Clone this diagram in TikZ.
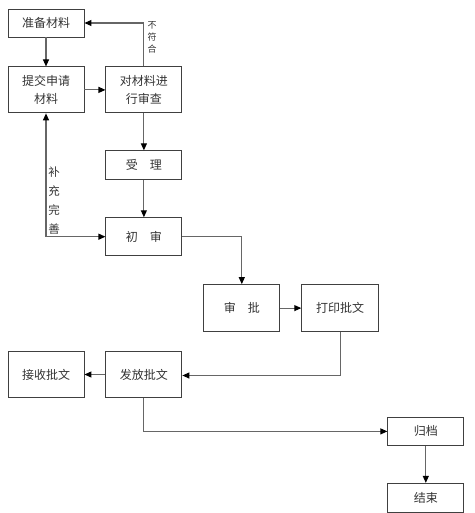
\documentclass[tikz,border=0pt]{standalone}
\usepackage{fontspec}
\setmainfont{Noto Sans CJK SC}
\usetikzlibrary{positioning,arrows.meta}

\tikzset{
  box/.style={draw=black!75, line width=0.9pt, minimum width=76pt, inner sep=2pt,
    align=center, text=black!80, font=\fontsize{12}{18}\selectfont},
  tip/.tip={Triangle[length=7pt,width=6pt,color=black]},
  link/.style={draw=black!60, line width=1.1pt, -tip},
  note/.style={align=center, text=black!80, inner sep=0pt}
}

\begin{document}
\begin{tikzpicture}[x=1pt, y=1pt, node distance=21pt]
  \useasboundingbox (0,0) rectangle (474,-513);
  \node[box, minimum height=28pt] (prep) at (46,-23) {准备材料};
  \node[box, minimum height=46pt] (submit) [below=29pt of prep] {提交申请\\材料};
  \node[box, minimum height=46pt] (check) [right=of submit] {对材料进\\行审查};
  \node[box, minimum height=29pt] (accept) [below=37pt of check] {受\hspace{1em}理};
  \node[box, minimum height=38pt] (first) [below=37pt of accept] {初\hspace{1em}审};
  \node[box, minimum height=47pt] (approve) [below right=28pt and 21pt of first] {审\hspace{1em}批};
  \node[box, minimum height=47pt, minimum width=77pt] (print) [right=of approve] {打印批文};
  \node[box, minimum height=46pt] (issue) [below left=19pt and 21pt of approve] {发放批文};
  \node[box, minimum height=46pt] (receive) [left=of issue] {接收批文};
  \node[box, minimum height=28pt] (archive) [below right=19pt and 205pt of issue] {归档};
  \node[box, minimum height=29pt] (finish) [below=37pt of archive] {结束};
  \node[note, font=\fontsize{9}{12}\selectfont] (nofit) at (152,-37) {不\\符\\合};
  \node[note, font=\fontsize{11.5}{19}\selectfont] (supply) at (54,-201) {补\\充\\完\\善};
  \path[link]
    (prep) edge (submit)
    (submit) edge (check)
    (check) edge (accept)
    (accept) edge (first)
    (approve) edge (print)
    (issue) edge (receive)
    (archive) edge (finish);
  \draw[link] (check.north) |- (prep.east);
  \draw[link, tip-tip] (submit.south) |- (first.west);
  \draw[link] (first.east) -| (approve.north);
  \draw[link] (print.south) |- ([yshift=-1pt]issue.east);
  \draw[link] (issue.south) |- (archive.west);
\end{tikzpicture}
\end{document}
